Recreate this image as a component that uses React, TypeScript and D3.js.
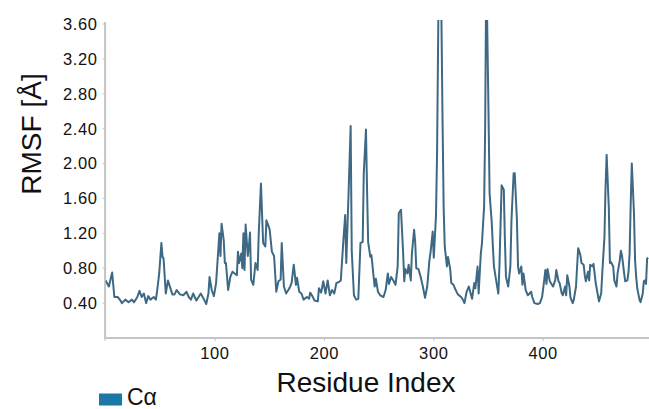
import React from "react";
import * as d3 from "d3";

// [residue index, RMSF (Å)]
const rmsfCa: [number, number][] = [
  [0, 0.66], [3, 0.59], [6, 0.75], [8, 0.47], [11, 0.47], [13, 0.44], [15, 0.4], [18, 0.44], [21, 0.41], [24, 0.44],
  [26, 0.41], [29, 0.47], [31, 0.54], [33, 0.47], [35, 0.51], [37, 0.4], [39, 0.48], [41, 0.44], [44, 0.47], [46, 0.44],
  [47, 0.53], [49, 0.74], [51, 1.09], [52, 0.93], [53, 0.91], [55, 0.51], [57, 0.66], [58, 0.62], [61, 0.5], [63, 0.5],
  [65, 0.55], [68, 0.5], [71, 0.49], [74, 0.53], [76, 0.47], [78, 0.44], [80, 0.51], [83, 0.43], [85, 0.47], [87, 0.51],
  [90, 0.44], [92, 0.39], [94, 0.51], [95, 0.7], [97, 0.55], [99, 0.48],
  [101, 0.63], [104, 1.2], [105, 0.94], [106, 1.31], [108, 1.12], [109, 0.86], [110, 0.86], [112, 0.55], [114, 0.7], [116, 0.76],
  [118, 0.74], [120, 0.72], [121, 0.99], [122, 0.86], [124, 0.97], [125, 0.8], [126, 1.2], [127, 0.78], [128, 1.3], [130, 0.94],
  [131, 1.05], [132, 1.21], [133, 0.67], [135, 0.61], [137, 0.86], [139, 0.78], [140, 1.2], [142, 1.77], [144, 1.09], [146, 1.05],
  [147, 1.35], [149, 1.28], [150, 1.24], [152, 0.99], [154, 0.94], [156, 0.53], [158, 0.65], [160, 0.67], [161, 1.09], [163, 0.59],
  [165, 0.51], [168, 0.57], [170, 0.63], [172, 0.84], [174, 0.61], [175, 0.69], [177, 0.53], [179, 0.51], [181, 0.44], [184, 0.47],
  [186, 0.45], [187, 0.52], [189, 0.48], [191, 0.43], [194, 0.42], [195, 0.57], [197, 0.52], [199, 0.65],
  [201, 0.51], [203, 0.66], [205, 0.49], [207, 0.55], [209, 0.51], [211, 0.63], [213, 0.64], [215, 0.66], [217, 1.05], [219, 1.41],
  [220, 0.86], [222, 1.62], [224, 2.43], [225, 1.0], [227, 0.49], [229, 0.44], [231, 0.45], [233, 1.09], [235, 1.1], [236, 1.89],
  [238, 2.39], [239, 1.7], [240, 1.1], [242, 0.93], [243, 0.95], [245, 0.7], [246, 0.59], [247, 0.68], [249, 0.53], [251, 0.49],
  [254, 0.47], [256, 0.55], [258, 0.74], [259, 0.62], [261, 0.7], [263, 0.66], [265, 0.61], [267, 0.82], [268, 1.43], [270, 1.47],
  [272, 0.97], [273, 0.65], [274, 0.79], [276, 0.74], [277, 0.84], [279, 0.66], [280, 0.97], [282, 1.24], [283, 1.1], [284, 0.8],
  [286, 0.79], [288, 0.7], [290, 0.59], [292, 0.46], [294, 0.59], [296, 0.89], [297, 0.98], [299, 1.22], [300, 0.92], [302, 1.4],
  [303, 2.12], [305, 4.8], [306, 4.8], [308, 2.5], [309, 1.5], [310, 1.05], [312, 0.82], [313, 0.93], [315, 0.79], [316, 0.63],
  [318, 0.61], [320, 0.55], [322, 0.5], [325, 0.47], [327, 0.43], [328, 0.4], [330, 0.53], [332, 0.59], [335, 0.45], [337, 0.63],
  [338, 0.57], [340, 0.82], [341, 0.51], [343, 0.97], [344, 1.08], [346, 1.51], [347, 2.45], [348, 4.3], [350, 2.6], [351, 1.66],
  [353, 1.32], [354, 1.05], [355, 0.82], [357, 0.66], [359, 0.51], [360, 0.82], [362, 1.75], [364, 1.7], [365, 1.12], [366, 0.7],
  [368, 0.59], [370, 0.82], [371, 1.35], [373, 1.89], [374, 1.89], [376, 1.35], [377, 0.82], [378, 0.74], [380, 0.82], [381, 0.61],
  [382, 0.74], [384, 0.55], [386, 0.49], [389, 0.53], [390, 0.47], [392, 0.4], [395, 0.39], [397, 0.4], [399, 0.47], [401, 0.67],
  [402, 0.78], [403, 0.62], [404, 0.79], [406, 0.65], [407, 0.63], [409, 0.59], [411, 0.66], [412, 0.78], [414, 0.65], [415, 0.63],
  [417, 0.51], [418, 0.49], [420, 0.59], [421, 0.49], [422, 0.72], [424, 0.59], [425, 0.46], [427, 0.4], [428, 0.44], [430, 0.59],
  [431, 0.82], [432, 1.03], [434, 0.95], [435, 0.86], [437, 0.84], [438, 0.72], [439, 0.65], [441, 0.76], [442, 0.66], [443, 0.84],
  [445, 0.82], [446, 0.85], [448, 0.63], [450, 0.49], [451, 0.42], [453, 0.51], [454, 0.74], [456, 1.16], [457, 1.73], [458, 2.1],
  [460, 1.49], [461, 0.86], [462, 0.87], [464, 0.82], [465, 0.66], [467, 0.59], [468, 0.74], [470, 0.89], [471, 1.0], [472, 0.95],
  [474, 0.74], [475, 0.65], [477, 0.66], [478, 0.76], [479, 0.97], [480, 1.54], [481, 2.0], [483, 1.43], [484, 0.89], [485, 0.7],
  [486, 0.57], [488, 0.44], [489, 0.41], [491, 0.51], [492, 0.65], [493, 0.66], [494, 0.62], [495, 0.91], [496, 0.92],
];

const yTicks = [0.4, 0.8, 1.2, 1.6, 2.0, 2.4, 2.8, 3.2, 3.6];
const xTicks = [100, 200, 300, 400];
const xDomain: [number, number] = [0, 497];
const yDomain: [number, number] = [0, 3.6];
const seriesName = "Cα";
const xTitle = "Residue Index";
const yTitle = "RMSF [Å]";

const W = 649;
const H = 409;
const left = 105.6;
const right = 649.3;
const top = 24;
const bottom = 338;
const FONT = "'Liberation Sans', Arial, Helvetica, sans-serif";
const AXIS = "#c4c4c4";
const LINE = "#3d6985";
const LEGEND = "#1b78a6";

export default function App() {
  const x = d3.scaleLinear().domain(xDomain).range([left, right]);
  const y = d3.scaleLinear().domain(yDomain).range([bottom, top]);
  const line = d3
    .line<[number, number]>()
    .x((d) => x(d[0]))
    .y((d) => y(d[1]));
  const path = line(rmsfCa) || "";

  return (
    <svg
      width={W}
      height={H}
      style={{ position: "absolute", left: 0, top: 0, background: "#fff" }}
      fontFamily={FONT}
    >
      <defs>
        <clipPath id="plotClip">
          <rect x={left} y={20} width={W - left} height={bottom - 20} />
        </clipPath>
      </defs>

      {/* y axis */}
      <line x1={left - 0.5} x2={left - 0.5} y1={22} y2={bottom} stroke={AXIS} strokeWidth={2} />
      {yTicks.map((t) => (
        <g key={t}>
          <line x1={left - 3} x2={left - 0.5} y1={y(t)} y2={y(t)} stroke={AXIS} strokeWidth={1} />
          <text
            x={97.5}
            y={y(t)}
            dy="0.36em"
            textAnchor="end"
            fontSize={16.5}
            letterSpacing={0.6}
            fill="#111"
          >
            {t.toFixed(2)}
          </text>
        </g>
      ))}

      {/* x axis */}
      <line x1={left - 1.5} x2={W} y1={bottom} y2={bottom} stroke={AXIS} strokeWidth={2} />
      <line x1={left - 0.5} x2={left - 0.5} y1={bottom} y2={bottom + 3} stroke={AXIS} strokeWidth={1} />
      {xTicks.map((t) => (
        <g key={t}>
          <line x1={x(t)} x2={x(t)} y1={bottom} y2={bottom + 3} stroke={AXIS} strokeWidth={1} />
          <text x={x(t)} y={359.3} textAnchor="middle" fontSize={16.5} letterSpacing={0.6} fill="#111">
            {t}
          </text>
        </g>
      ))}

      {/* series */}
      <g clipPath="url(#plotClip)">
        <path d={path} fill="none" stroke={LINE} strokeWidth={2} strokeLinejoin="round" />
      </g>

      {/* titles */}
      <text x={366} y={392} textAnchor="middle" fontSize={28} fill="#111">
        {xTitle}
      </text>
      <text
        transform="translate(41,134) rotate(-90)"
        textAnchor="middle"
        fontSize={28}
        fill="#111"
      >
        {yTitle}
      </text>

      {/* legend */}
      <rect x={99} y={393.5} width={23} height={12} fill={LEGEND} />
      <text x={127} y={405} fontSize={23} fill="#111">
        {seriesName}
      </text>
    </svg>
  );
}
